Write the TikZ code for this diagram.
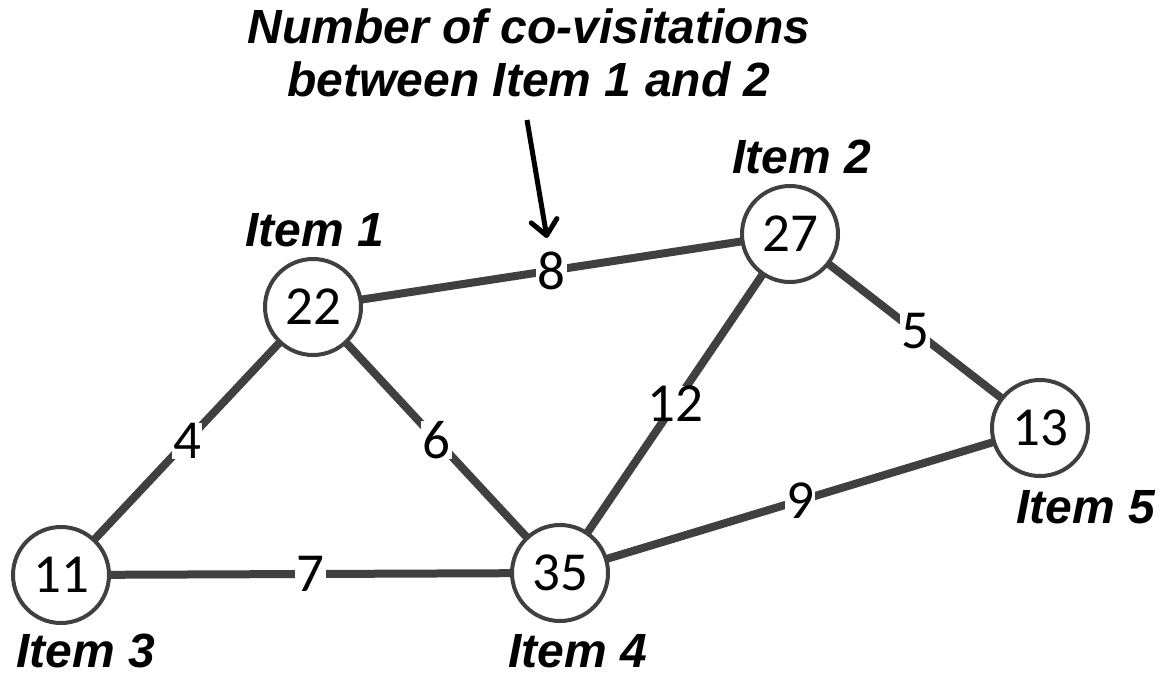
\documentclass[tikz,border=0pt]{standalone}
\usepackage{fontspec}
\setmainfont{Liberation Sans}
\newfontfamily\numfont{Carlito}
\usetikzlibrary{arrows.meta}
\definecolor{edgegray}{HTML}{404040}
\begin{document}
\begin{tikzpicture}[x=1pt,y=-1pt,
  item/.style={circle,draw=edgegray,line width=4pt,fill=white,minimum size=96pt,inner sep=0pt,font=\numfont\fontsize{55}{55}\selectfont},
  link/.style={draw=edgegray,line width=8pt},
  weight/.style={fill=white,inner xsep=1.5pt,inner ysep=0pt,font=\numfont\fontsize{55}{55}\selectfont,text=black},
  itemlabel/.style={anchor=base,inner sep=0pt,text depth=0pt,font=\fontsize{48}{48}\selectfont\bfseries\itshape},
  pointer/.style={draw=black,line width=5pt,-{Straight Barb[length=15pt,width=26pt,line cap=round,line join=round]}}
]
\useasboundingbox (0,0) rectangle (1161,674);
% centres
\coordinate (c1) at (313,307);
\coordinate (c2) at (790,234);
\coordinate (c3) at (61,575);
\coordinate (c4) at (560,573);
\coordinate (c5) at (1040,428);
% edges
\path[link] (c1) -- node[weight]{8} (c2);
\path[link] (c2) -- node[weight]{5} (c5);
\path[link] (c2) -- node[weight]{12} (c4);
\path[link] (c1) -- node[weight]{4} (c3);
\path[link] (c1) -- node[weight]{6} (c4);
\path[link] (c3) -- node[weight]{7} (c4);
\path[link] (c4) -- node[weight]{9} (c5);
% nodes
\node[item] (n1) at (c1) {22};
\node[item] (n2) at (c2) {27};
\node[item] (n3) at (c3) {11};
\node[item] (n4) at (c4) {35};
\node[item] (n5) at (c5) {13};
% labels
\node[itemlabel] (l1) at (315,246) {Item 1};
\node[itemlabel] (l2) at (802,173) {Item 2};
\node[itemlabel] (l5) at (1086,523) {Item 5};
\node[itemlabel] (l3) at (86,667) {Item 3};
\node[itemlabel] (l4) at (578,667) {Item 4};
% title
\node[itemlabel] (t1) at (529,44) {Number of co-visitations};
\node[itemlabel] (t2) at (529,97) {between Item 1 and 2};
\coordinate (arrowstart) at (527,120);
\coordinate (arrowtip) at (547,238);
\draw[pointer] (arrowstart) -- (arrowtip);
\end{tikzpicture}
\end{document}
